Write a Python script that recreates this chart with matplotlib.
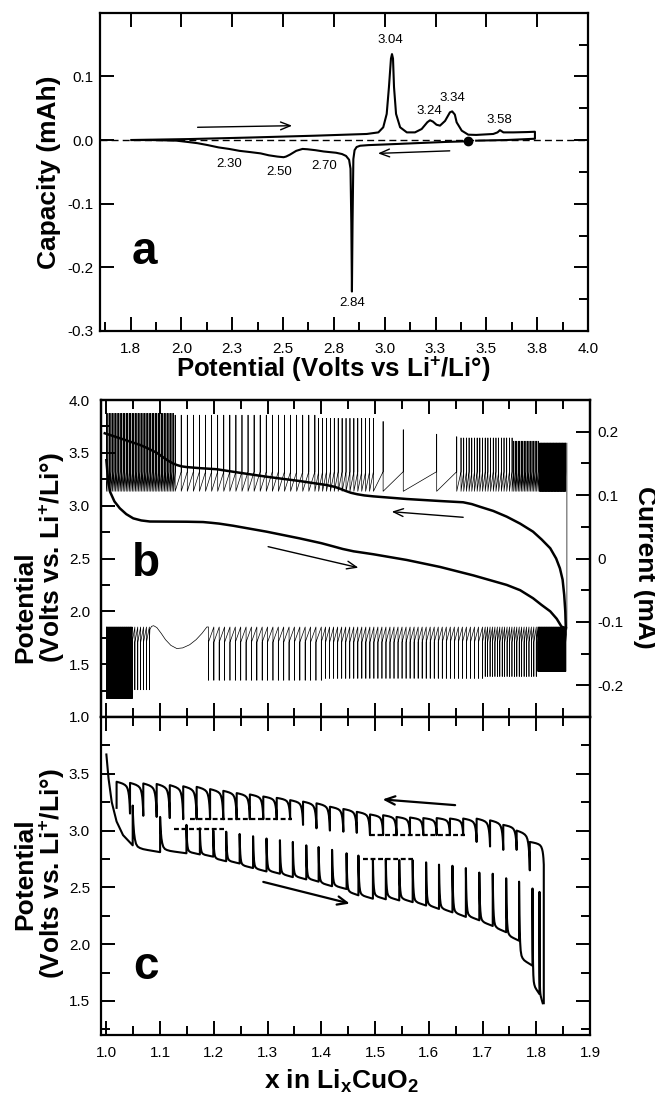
import numpy as np
import matplotlib
matplotlib.use("Agg")
import matplotlib.pyplot as plt
from matplotlib import font_manager
from matplotlib.ticker import MultipleLocator, FixedLocator, FixedFormatter

# ---------------- panel a : differential capacity ----------------
a_red_V = [3.407, 3.30, 3.15, 3.00, 2.92, 2.879, 2.862, 2.852, 2.846, 2.842, 2.839,
           2.836, 2.832, 2.825, 2.81, 2.79, 2.761, 2.73, 2.70, 2.66, 2.62, 2.596,
           2.565, 2.534, 2.515, 2.503, 2.472, 2.43, 2.39, 2.34, 2.286, 2.235, 2.183,
           2.13, 2.08, 2.03, 1.976, 1.85, 1.755]
a_red_Q = [-0.002, -0.003, -0.005, -0.007, -0.008, -0.009, -0.011, -0.016, -0.030,
           -0.130, -0.238, -0.130, -0.045, -0.031, -0.025, -0.022, -0.020, -0.019,
           -0.018, -0.016, -0.0145, -0.014, -0.017, -0.023, -0.026, -0.027, -0.026,
           -0.024, -0.021, -0.019, -0.017, -0.014, -0.0116, -0.008, -0.005, -0.003,
           -0.001, 0.0, 0.0]
a_ox_V = [1.755, 2.038, 2.348, 2.658, 2.912, 2.969, 2.993, 3.01, 3.021, 3.031, 3.036,
          3.041, 3.046, 3.056, 3.076, 3.109, 3.149, 3.182, 3.21, 3.223, 3.237, 3.255,
          3.272, 3.297, 3.321, 3.332, 3.345, 3.354, 3.379, 3.411, 3.45, 3.534, 3.555,
          3.567, 3.584, 3.633, 3.70, 3.739, 3.739, 3.60, 3.45]
a_ox_Q = [0.0, 0.0015, 0.004, 0.0068, 0.0095, 0.012, 0.020, 0.041, 0.083, 0.128, 0.135,
          0.128, 0.083, 0.041, 0.020, 0.012, 0.012, 0.0173, 0.028, 0.031, 0.029, 0.024,
          0.0226, 0.030, 0.0435, 0.045, 0.040, 0.0278, 0.0147, 0.0084, 0.008, 0.0095,
          0.012, 0.0155, 0.012, 0.012, 0.0125, 0.013, 0.002, 0.0, -0.001]
a_dot_V, a_dot_Q = 3.41, -0.002
a_peak_text = ["3.04", "3.24", "3.34", "3.58", "2.30", "2.50", "2.70", "2.84"]
a_peak_V = [3.03, 3.219, 3.333, 3.562, 2.234, 2.482, 2.702, 2.84]
a_peak_Q = [0.1566, 0.045, 0.066, 0.032, -0.038, -0.0495, -0.0405, -0.256]
a_xticks = [1.75, 2.0, 2.25, 2.5, 2.75, 3.0, 3.25, 3.5, 3.75, 4.0]
a_xtick_labels = ["1.8", "2.0", "2.3", "2.5", "2.8", "3.0", "3.3", "3.5", "3.8", "4.0"]
a_yticks = [-0.3, -0.2, -0.1, 0.0, 0.1]
a_ytick_labels = ["-0.3", "-0.2", "-0.1", "0.0", "0.1"]

# ---------------- panel b : potential and current ----------------
b_chg_x = [0.997, 1.03, 1.063, 1.076, 1.094, 1.105, 1.115, 1.124, 1.131, 1.14, 1.15,
           1.174, 1.205, 1.25, 1.298, 1.36, 1.39, 1.41, 1.425, 1.435, 1.445, 1.455,
           1.467, 1.48, 1.497, 1.559, 1.621, 1.664, 1.68, 1.695, 1.72, 1.745, 1.77,
           1.794, 1.81, 1.826, 1.837, 1.844, 1.849, 1.852, 1.854, 1.855]
b_chg_V = [3.685, 3.63, 3.574, 3.545, 3.50, 3.46, 3.425, 3.40, 3.385, 3.372, 3.365,
           3.355, 3.345, 3.31, 3.274, 3.233, 3.21, 3.195, 3.178, 3.16, 3.14, 3.122,
           3.108, 3.097, 3.088, 3.063, 3.044, 3.032, 3.015, 2.99, 2.95, 2.896, 2.83,
           2.754, 2.68, 2.597, 2.50, 2.407, 2.30, 2.155, 2.0, 1.84]
b_dis_x = [1.0, 1.003, 1.007, 1.015, 1.025, 1.037, 1.05, 1.065, 1.081, 1.150, 1.180,
           1.195, 1.21, 1.236, 1.298, 1.36, 1.40, 1.422, 1.44, 1.46, 1.48, 1.497, 1.559,
           1.621, 1.683, 1.745, 1.77, 1.794, 1.81, 1.826, 1.838, 1.847, 1.855]
b_dis_V = [3.43, 3.25, 3.13, 3.04, 2.975, 2.92, 2.88, 2.86, 2.85, 2.848, 2.845, 2.838,
           2.83, 2.81, 2.754, 2.69, 2.645, 2.615, 2.59, 2.568, 2.553, 2.54, 2.486, 2.42,
           2.34, 2.25, 2.20, 2.124, 2.06, 2.0, 1.93, 1.855, 1.84]
# current pulses: groups (x_left, x_right, number of pulses, pulse extreme in mA)
b_top_groups = [(1.000, 1.125, 45, 0.229), (1.128, 1.388, 24, 0.226),
                (1.395, 1.497, 15, 0.221), (1.660, 1.755, 20, 0.190),
                (1.758, 1.8035, 17, 0.185), (1.806, 1.855, 45, 0.182)]
b_top_single_x = [1.515, 1.5525, 1.6147, 1.652]
b_top_single_I = [0.216, 0.203, 0.196, 0.192]
b_top_base, b_top_mid = 0.106, 0.137
b_bot_groups_a = [(1.000, 1.048, 40, -0.221), (1.053, 1.080, 6, -0.207)]
b_bot_groups_b = [(1.190, 1.400, 22, -0.192), (1.408, 1.700, 40, -0.189),
                  (1.705, 1.800, 22, -0.186), (1.803, 1.855, 45, -0.178)]
b_bot_base, b_bot_mid = -0.108, -0.132
b_bump_x = [1.081, 1.084, 1.088, 1.094, 1.102, 1.110, 1.120, 1.131, 1.142, 1.155,
            1.167, 1.178, 1.187]
b_bump_I = [-0.112, -0.107, -0.106, -0.109, -0.118, -0.128, -0.137, -0.142, -0.141,
            -0.136, -0.128, -0.118, -0.108]
b_switch_x = 1.857

# ---------------- panel c : intermittent titration ----------------
c_dis_first_x = [1.000, 1.004, 1.010, 1.019, 1.031, 1.049]
c_dis_first_V = [3.67, 3.46, 3.25, 3.08, 2.96, 2.87]
c_dis_x = [1.049, 1.100, 1.149, 1.174, 1.199, 1.223, 1.248, 1.273, 1.298, 1.323, 1.347,
           1.372, 1.395, 1.420, 1.447, 1.469, 1.496, 1.520, 1.545, 1.570, 1.595, 1.619,
           1.644, 1.669, 1.694, 1.719, 1.744, 1.768, 1.793, 1.806]
c_dis_bottom = [2.87, 2.81, 2.80, 2.79, 2.77, 2.73, 2.71, 2.67, 2.64, 2.62, 2.59, 2.57,
                2.55, 2.51, 2.485, 2.43, 2.40, 2.395, 2.385, 2.37, 2.34, 2.31, 2.28,
                2.24, 2.21, 2.16, 2.105, 2.03, 1.81, 1.56]
c_dis_top = [3.22, 3.12, 3.05, 3.02, 3.00, 2.99, 2.97, 2.95, 2.93, 2.915, 2.90, 2.87,
             2.855, 2.83, 2.80, 2.78, 2.75, 2.75, 2.74, 2.74, 2.72, 2.70, 2.69, 2.67,
             2.63, 2.62, 2.58, 2.55, 2.49, 2.46]
c_dis_end_x, c_dis_end_V = 1.812, 1.48
c_chg_start_x = [1.814, 1.814]
c_chg_start_V = [1.48, 2.70]
c_chg_x = [1.788, 1.7635, 1.7386, 1.714, 1.689, 1.664, 1.6394, 1.6147, 1.5898, 1.565,
           1.540, 1.515, 1.4906, 1.466, 1.441, 1.416, 1.391, 1.366, 1.342, 1.317, 1.292,
           1.267, 1.2425, 1.2176, 1.193, 1.168, 1.143, 1.118, 1.0936, 1.0687, 1.044, 1.019]
c_chg_peak = [2.90, 3.00, 3.05, 3.09, 3.105, 3.106, 3.106, 3.11, 3.11, 3.115, 3.12,
              3.135, 3.142, 3.165, 3.19, 3.21, 3.24, 3.255, 3.268, 3.288, 3.30, 3.318,
              3.33, 3.35, 3.365, 3.385, 3.39, 3.40, 3.41, 3.415, 3.42, 3.43]
c_chg_relax = [2.65, 2.83, 2.83, 2.86, 2.90, 2.96, 2.96, 2.96, 2.96, 2.96, 2.96, 2.96,
               2.96, 2.98, 2.99, 3.00, 3.02, 3.05, 3.10, 3.10, 3.10, 3.10, 3.10, 3.10,
               3.10, 3.10, 3.10, 3.11, 3.12, 3.13, 3.15, 3.20]
c_dash_x0 = [1.155, 1.125, 1.490, 1.478]
c_dash_x1 = [1.345, 1.218, 1.667, 1.571]
c_dash_V = [3.10, 3.01, 2.96, 2.75]

# ---------------- style ----------------
names = {f.name for f in font_manager.fontManager.ttflist}
SANS = "Liberation Sans" if "Liberation Sans" in names else "DejaVu Sans"
plt.rcParams.update({
    "font.family": [SANS, "DejaVu Sans"],
    "mathtext.fontset": "custom",
    "mathtext.rm": SANS,
    "mathtext.bf": SANS + ":bold",
    "mathtext.it": SANS + ":italic",
    "axes.linewidth": 1.6,
    "xtick.direction": "in", "ytick.direction": "in",
    "xtick.major.size": 10, "ytick.major.size": 10,
    "xtick.minor.size": 6.5, "ytick.minor.size": 6.5,
    "xtick.major.width": 1.4, "ytick.major.width": 1.4,
    "xtick.minor.width": 1.4, "ytick.minor.width": 1.4,
    "xtick.labelsize": 11, "ytick.labelsize": 11,
})
# pulse shape templates (fraction of a step -> normalised relaxation)
PULSE_F = np.array([0, 0.01, 0.025, 0.05, 0.08, 0.12, 0.18, 0.26, 0.38, 0.55, 0.75, 1.0])
PULSE_G_DIS = np.array([1.0, 0.80, 0.61, 0.41, 0.28, 0.18, 0.12, 0.09, 0.065, 0.045, 0.025, 0.0])
PULSE_G_CHG = np.array([1.0, 0.86, 0.72, 0.56, 0.43, 0.32, 0.22, 0.15, 0.10, 0.06, 0.03, 0.0])

W, H = 655, 1095
fig = plt.figure(figsize=(W / 100, H / 100), dpi=100)


def fx(p):
    return p / W


def fy(p):
    return 1 - p / H


ax_a = fig.add_axes([fx(100), fy(331), (588 - 100) / W, (331 - 12.7) / H])
ax_b = fig.add_axes([fx(101), fy(717), (590 - 101) / W, (717 - 400) / H])
ax_c = fig.add_axes([fx(101), fy(1035), (590 - 101) / W, (1035 - 717) / H])

BOLD = dict(fontsize=19, fontweight="bold")
arrow_thin = dict(arrowstyle="->,head_length=0.7,head_width=0.28", lw=1.0, color="k",
                  shrinkA=0, shrinkB=0)
arrow_thick = dict(arrowstyle="->,head_length=0.7,head_width=0.3", lw=1.6, color="k",
                   shrinkA=0, shrinkB=0)

# ---------------- panel a ----------------
ax_a.axhline(0, color="k", lw=1.0, ls=(0, (5, 3)))
ax_a.plot(a_red_V, a_red_Q, color="k", lw=1.5)
ax_a.plot(a_ox_V, a_ox_Q, color="k", lw=1.5)
ax_a.plot([a_dot_V], [a_dot_Q], "o", color="k", ms=6)
for t, v, q in zip(a_peak_text, a_peak_V, a_peak_Q):
    ax_a.text(v, q, t, fontsize=9.5, ha="center", va="center")
ax_a.annotate("", xy=(2.545, 0.0225), xytext=(2.08, 0.020), arrowprops=arrow_thin)
ax_a.annotate("", xy=(2.967, -0.021), xytext=(3.32, -0.017), arrowprops=arrow_thin)
ax_a.text(1.82, -0.176, "a", fontsize=33, fontweight="bold", ha="center", va="center")
ax_a.set_xlim(1.6, 4.0)
ax_a.set_ylim(-0.3, 0.2)
ax_a.xaxis.set_major_locator(FixedLocator(a_xticks))
ax_a.xaxis.set_major_formatter(FixedFormatter(a_xtick_labels))
ax_a.xaxis.set_minor_locator(MultipleLocator(0.125))
ax_a.yaxis.set_major_locator(FixedLocator(a_yticks))
ax_a.yaxis.set_major_formatter(FixedFormatter(a_ytick_labels))
ax_a.yaxis.set_minor_locator(MultipleLocator(0.05))
ax_a.tick_params(which="both", top=True, right=True)
ax_a.tick_params(axis="x", which="minor", top=False)
ax_a.tick_params(axis="y", which="minor", left=False)
ax_a.tick_params(axis="x", pad=8)
ax_a.tick_params(axis="y", pad=5)
fig.text(fx(49), fy(172), "Capacity (mAh)", rotation=90, ha="center", va="center", **BOLD)
fig.text(fx(333), fy(377), r"Potential (Volts vs Li$^{\mathbf{+}}$/Li°)", ha="center",
         va="baseline", fontsize=18.5, fontweight="bold")

# ---------------- panel b ----------------
ax_b2 = ax_b.twinx()
top_sp = []
for x0, x1, n, t in b_top_groups:
    top_sp += [(p, t) for p in np.linspace(x0, x1, n)]
top_sp += list(zip(b_top_single_x, b_top_single_I))
top_sp.sort()
tx, ty = [], []
for p, t in top_sp:
    tx += [p, p, p]
    ty += [b_top_mid, t, b_top_base]
ax_b2.plot(tx, ty, color="k", lw=0.5)
bx, by = [], []
for x0, x1, n, t in b_bot_groups_a:
    for p in np.linspace(x0, x1, n):
        bx += [p, p, p]
        by += [b_bot_base, t, b_bot_mid]
bx += b_bump_x
by += b_bump_I
for x0, x1, n, t in b_bot_groups_b:
    for p in np.linspace(x0, x1, n):
        bx += [p, p, p]
        by += [b_bot_base, t, b_bot_mid]
bx += [b_switch_x, b_switch_x]
by += [b_bot_base, b_top_groups[-1][3]]
ax_b2.plot(bx, by, color="k", lw=0.5)
ax_b2.set_ylim(-0.25, 0.25)
ax_b2.yaxis.set_major_locator(FixedLocator([-0.2, -0.1, 0.0, 0.1, 0.2]))
ax_b2.yaxis.set_major_formatter(FixedFormatter(["-0.2", "-0.1", "0", "0.1", "0.2"]))
ax_b2.yaxis.set_minor_locator(MultipleLocator(0.05))
ax_b2.tick_params(axis="y", which="both", pad=5)

ax_b.plot(b_chg_x, b_chg_V, color="k", lw=1.8, zorder=5)
ax_b.plot(b_dis_x, b_dis_V, color="k", lw=1.8, zorder=5)
ax_b.annotate("", xy=(1.531, 2.943), xytext=(1.664, 2.89), arrowprops=arrow_thin)
ax_b.annotate("", xy=(1.469, 2.413), xytext=(1.301, 2.612), arrowprops=arrow_thin)
ax_b.text(1.073, 2.45, "b", fontsize=33, fontweight="bold", ha="center", va="center")
ax_b.set_xlim(0.99, 1.9)
ax_b.set_ylim(1.0, 4.0)
ax_b.xaxis.set_major_locator(MultipleLocator(0.1))
ax_b.xaxis.set_minor_locator(MultipleLocator(0.05))
ax_b.yaxis.set_major_locator(FixedLocator([1.0, 1.5, 2.0, 2.5, 3.0, 3.5, 4.0]))
ax_b.yaxis.set_major_formatter(FixedFormatter(["1.0", "1.5", "2.0", "2.5", "3.0", "3.5", "4.0"]))
ax_b.yaxis.set_minor_locator(MultipleLocator(0.25))
ax_b.tick_params(which="both", top=True, bottom=True, labelbottom=False, right=False)
ax_b.tick_params(axis="y", pad=8)
fig.text(fx(40), fy(558), "Potential\n" + r"(Volts vs. Li$^{\mathbf{+}}$/Li°)", rotation=90,
         ha="center", va="center", multialignment="left", linespacing=1.05, **BOLD)
fig.text(fx(645), fy(567), "Current (mA)", rotation=-90, ha="center", va="center", **BOLD)

# ---------------- panel c ----------------
X = list(c_dis_first_x) + [c_dis_x[0]]
V = list(c_dis_first_V) + [c_dis_top[0]]
for k in range(len(c_dis_x)):
    x0, v0 = c_dis_x[k], c_dis_top[k]
    if k + 1 < len(c_dis_x):
        x1, v1 = c_dis_x[k + 1], c_dis_bottom[k + 1]
    else:
        x1, v1 = c_dis_end_x, c_dis_end_V
    X += list(x0 + (x1 - x0) * PULSE_F[1:])
    V += list(v1 + (v0 - v1) * PULSE_G_DIS[1:])
    if k + 1 < len(c_dis_x):
        X.append(x1)
        V.append(c_dis_top[k + 1])
ax_c.plot(X, V, color="k", lw=1.5, solid_joinstyle="round")

X = list(c_chg_start_x)
V = list(c_chg_start_V)
px, pv = X[-1], V[-1]
for xj, pk, rl in zip(c_chg_x, c_chg_peak, c_chg_relax):
    X += list(px + (xj - px) * PULSE_F[1:])
    V += list(pk + (pv - pk) * PULSE_G_CHG[1:])
    X.append(xj)
    V.append(rl)
    px, pv = xj, rl
ax_c.plot(X, V, color="k", lw=1.5, solid_joinstyle="round")

for x0, x1, v in zip(c_dash_x0, c_dash_x1, c_dash_V):
    ax_c.plot([x0, x1], [v, v], color="k", lw=1.6, ls=(0, (2.2, 1.2)))
ax_c.annotate("", xy=(1.514, 3.274), xytext=(1.649, 3.224), arrowprops=arrow_thick)
ax_c.annotate("", xy=(1.453, 2.357), xytext=(1.292, 2.548), arrowprops=arrow_thick)
ax_c.text(1.073, 1.80, "c", fontsize=33, fontweight="bold", ha="center", va="center")
ax_c.set_xlim(0.99, 1.9)
ax_c.set_ylim(1.2, 4.0)
ax_c.xaxis.set_major_locator(FixedLocator([1.0, 1.1, 1.2, 1.3, 1.4, 1.5, 1.6, 1.7, 1.8, 1.9]))
ax_c.xaxis.set_major_formatter(FixedFormatter(["1.0", "1.1", "1.2", "1.3", "1.4", "1.5",
                                               "1.6", "1.7", "1.8", "1.9"]))
ax_c.xaxis.set_minor_locator(MultipleLocator(0.05))
ax_c.yaxis.set_major_locator(FixedLocator([1.5, 2.0, 2.5, 3.0, 3.5]))
ax_c.yaxis.set_major_formatter(FixedFormatter(["1.5", "2.0", "2.5", "3.0", "3.5"]))
ax_c.yaxis.set_minor_locator(MultipleLocator(0.25))
ax_c.tick_params(which="both", top=True, right=True)
ax_c.tick_params(axis="x", pad=8)
ax_c.tick_params(axis="y", pad=8)
fig.text(fx(40), fy(874), "Potential\n" + r"(Volts vs. Li$^{\mathbf{+}}$/Li°)", rotation=90,
         ha="center", va="center", multialignment="center", linespacing=1.05, **BOLD)
fig.text(fx(341), fy(1089), r"x in Li$_{\mathbf{x}}$CuO$_{\mathbf{2}}$", ha="center",
         va="baseline", **BOLD)

fig.savefig("out.png", dpi=100)
